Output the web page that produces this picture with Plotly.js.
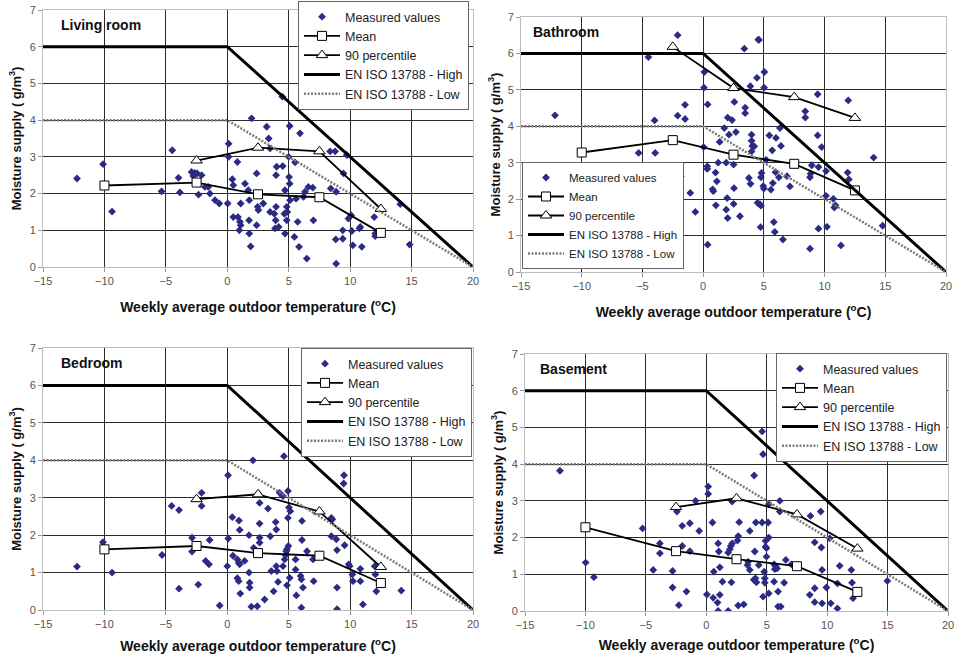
<!DOCTYPE html>
<html>
<head>
<meta charset="utf-8">
<script src="https://cdn.plot.ly/plotly-3.0.1.min.js"></script>
<style>html,body{margin:0;padding:0;background:#fff;}#chart{width:956px;height:657px;}</style>
</head>
<body>
<div id="chart"></div>
<script>
// ---------- data ----------
const roomNames = ["Living room", "Bathroom", "Bedroom", "Basement"];
const legendNames = ["Measured values", "Mean", "90 percentile", "EN ISO 13788 - High", "EN ISO 13788 - Low"];

const meanX = [-10, -2.5, 2.5, 7.5, 12.5];
const pctX = [-2.5, 2.5, 7.5, 12.5];
const stdX = [-15, 0, 20];
const highY = [6, 6, 0];
const lowY = [4, 4, 0];

const livingX = [-12.23,-10.11,-9.38,-4.48,-5.35,-3.97,-3.86,-2.91,-2.77,-2.64,-2.45,-2.34,-2.09,-1.82,-1.55,-1.41,-1.0,-0.65,0.11,0.11,0.03,0.41,0.49,0.82,0.49,0.87,1.03,1.09,0.98,1.09,1.44,1.71,1.79,1.77,1.79,1.9,1.98,2.39,2.47,2.53,2.39,2.93,3.21,3.37,3.48,3.48,3.83,3.94,3.97,3.89,4.18,4.02,3.97,4.51,4.48,4.65,4.7,4.7,4.84,4.89,4.84,5.08,5.0,5.03,5.08,5.11,5.92,5.52,5.6,5.73,5.84,5.46,6.2,6.33,6.47,6.6,6.96,7.01,8.37,8.78,8.42,8.86,8.86,8.83,9.4,9.4,9.46,9.73,9.86,10.08,10.14,10.22,10.82,10.76,10.95,11.96,12.04,12.04,14.08,14.84];
const livingY = [2.41,2.80,1.51,3.18,2.06,2.43,2.03,2.59,2.48,2.56,2.55,1.97,2.5,2.18,2.18,2.0,1.82,1.73,3.36,3.0,1.73,2.39,2.23,2.86,1.36,1.36,1.23,1.14,1.0,1.73,2.27,2.09,1.82,1.27,0.91,0.56,4.05,2.55,1.64,1.55,1.14,1.73,3.82,3.5,3.23,1.5,1.45,1.27,1.64,1.05,1.09,2.73,2.5,2.75,4.64,1.45,0.91,2.09,1.64,1.5,1.27,3.84,3.0,2.45,2.27,1.82,3.64,2.85,1.86,1.23,0.55,0.82,1.91,2.05,0.23,2.18,2.16,1.27,3.15,3.15,2.14,2.05,0.09,0.75,0.77,1.0,2.55,3.05,1.32,1.41,0.98,0.59,1.09,1.05,0.55,1.36,0.91,0.84,1.71,0.61];
const livingMean = [2.22, 2.3, 1.98, 1.9, 0.93];
const livingPct = [2.9, 3.25, 3.15, 1.58];

const bathX = [-12.2,-10.1,-9.4,-5.31,-4.51,-4.0,-3.95,-2.92,-2.77,-2.43,-2.1,-2.1,-1.83,-1.49,-1.49,-1.06,-0.64,0.04,0.1,0.07,0.37,0.34,0.34,0.37,0.78,0.84,1.02,1.13,1.05,1.24,1.36,1.74,1.9,1.98,1.9,2.02,2.02,2.13,2.38,2.51,2.54,2.51,2.57,2.7,3.03,3.39,3.46,3.46,3.77,3.9,3.89,3.99,3.99,4.04,3.99,4.21,4.43,4.54,4.6,4.48,4.68,4.76,4.73,4.81,4.76,4.95,5.0,5.04,5.02,5.19,5.45,5.58,5.69,5.74,5.82,5.9,5.96,6.0,6.24,6.32,6.41,6.57,6.9,7.15,8.41,8.41,8.95,8.8,8.85,8.8,9.43,9.43,9.5,9.5,9.76,10.12,10.12,10.2,10.72,10.8,10.9,11.35,11.9,11.95,12.0,14.04,14.78];
const bathY = [4.3,2.63,2.31,3.27,5.9,4.16,3.27,2.76,2.17,2.37,6.5,4.29,2.63,4.59,4.2,2.17,1.65,3.43,5.49,5.06,4.6,2.9,2.83,0.75,2.27,2.22,2.73,2.49,1.83,3.0,3.57,3.95,3.0,2.03,1.71,1.48,4.24,3.77,4.17,2.95,2.3,1.87,4.67,3.84,1.53,6.13,4.51,4.36,2.58,2.42,5.1,3.77,3.6,3.46,3.31,3.45,5.33,6.38,6.37,1.9,1.86,1.82,1.23,2.72,2.6,2.36,2.29,5.49,5.06,3.08,3.75,2.26,3.34,2.44,1.37,1.1,2.74,3.68,2.6,3.95,3.46,0.89,2.63,2.35,4.41,4.24,2.93,2.6,2.7,0.64,4.88,3.75,2.88,1.19,3.43,2.77,2.09,1.24,2.01,1.77,1.83,0.73,2.73,4.71,2.54,3.14,1.27];
const bathMean = [3.28, 3.62, 3.22, 2.97, 2.24];
const bathPct = [6.18, 5.05, 4.8, 4.23];

const bedX = [-12.23,-10.12,-9.38,-5.31,-4.53,-3.93,-3.93,-2.87,-2.87,-2.09,-2.09,-2.36,-1.76,-1.49,-1.44,-0.62,0.06,0.08,0.0,0.41,0.46,0.82,0.93,1.01,0.95,1.01,0.82,0.93,1.06,1.41,1.77,1.77,1.82,1.82,1.96,2.09,2.15,2.55,2.63,2.63,2.63,2.63,2.44,3.04,3.31,3.58,3.5,3.94,3.99,3.99,4.05,4.13,3.77,4.26,4.53,4.61,4.53,4.67,4.75,4.8,4.86,4.97,4.94,5.02,4.94,5.13,4.86,5.08,5.56,5.56,5.62,5.97,6.03,6.03,6.08,6.08,6.16,6.49,6.98,7.03,8.47,8.47,8.55,8.87,8.93,8.93,8.93,9.5,9.47,9.55,9.88,9.96,10.18,10.23,10.83,10.83,11.04,12.0,12.05,12.13,14.16];
const bedY = [1.16,1.81,1.0,1.47,2.78,2.67,0.57,1.93,1.56,3.13,2.78,0.68,1.31,1.22,1.87,0.12,3.6,1.91,1.17,2.48,1.45,1.35,1.26,1.22,2.39,2.14,0.85,0.77,0.44,1.31,2.0,1.0,0.73,0.6,0.09,4.0,1.66,3.1,2.86,2.31,1.93,1.8,0.1,0.28,2.71,1.04,1.97,2.35,2.15,1.17,1.04,0.75,0.5,3.13,3.04,4.11,1.17,1.35,1.46,1.57,1.62,1.71,3.18,2.74,2.46,2.64,0.66,0.86,1.35,1.08,0.39,0.91,0.82,0.06,2.38,1.87,0.6,1.57,1.35,0.77,2.46,1.97,2.42,1.89,1.6,0.6,0.02,3.6,3.38,1.73,1.22,1.17,0.95,0.77,1.1,0.77,0.15,1.17,0.95,0.5,0.52];
const bedMean = [1.62, 1.71, 1.52, 1.45, 0.72];
const bedPct = [2.96, 3.09, 2.63, 1.15];

const baseX = [-12.11,-9.98,-9.3,-5.27,-4.39,-3.84,-3.84,-2.79,-2.79,-2.43,-2.27,-1.99,-1.99,-1.64,-1.36,-1.36,-0.89,-0.59,0.16,0.16,0.05,0.51,0.57,0.62,0.93,0.98,1.04,1.12,1.12,0.98,1.34,1.81,1.81,1.95,2.03,2.14,2.08,2.14,2.58,2.64,2.72,2.64,3.1,3.41,3.46,3.6,3.6,3.96,4.1,4.01,3.93,4.07,4.15,4.34,4.62,4.62,4.7,4.9,4.9,4.98,4.98,4.79,4.84,4.84,4.7,5.12,5.17,5.17,5.17,5.61,5.67,5.75,5.86,5.61,6.08,6.08,5.94,5.94,6.16,6.44,6.58,7.04,8.62,8.56,8.97,8.97,8.97,9.47,9.52,9.58,9.58,9.94,10.21,10.3,10.85,10.85,11.04,12.0,12.06,12.14,14.98];
const baseY = [3.82,1.32,0.92,2.25,1.12,1.84,1.57,1.09,0.64,2.71,0.16,2.32,1.77,0.53,2.39,1.63,3.0,2.18,3.39,3.19,0.45,2.41,0.36,1.07,0.23,1.84,1.62,1.19,0.44,0.0,0.8,0.0,1.59,1.68,1.77,1.84,0.78,2.98,1.92,2.04,2.42,0.15,0.18,1.25,1.34,1.12,2.18,3.69,2.41,1.62,0.85,0.89,0.78,1.25,2.41,4.89,4.27,1.91,1.75,1.71,1.48,1.07,0.89,0.77,0.39,2.41,2.0,2.91,0.48,1.27,1.14,1.21,1.16,0.8,3.0,2.71,0.53,0.12,0.12,0.77,1.39,1.27,2.59,0.44,0.62,1.87,0.24,2.71,1.73,1.12,0.21,0.64,1.98,0.21,0.75,0.07,1.23,1.12,0.77,0.35,0.82];
const baseMean = [2.28, 1.63, 1.41, 1.22, 0.52];
const basePct = [2.83, 3.07, 2.63, 1.7];

// ---------- layout helpers ----------
const W = 956, H = 657;
const px = v => v / W, py = v => 1 - v / H;

const panels = [
  {name: roomNames[0], sx: livingX, sy: livingY, mean: livingMean, pct: livingPct,
   dom: [[43, 473], [10, 267]], leg: {x: 298, y: 1, anchor: 'top', size: 12.5}, xs: 15, ys: 5, tx: -13.7},
  {name: roomNames[1], sx: bathX, sy: bathY, mean: bathMean, pct: bathPct,
   dom: [[521, 946], [17, 272]], leg: {x: 522, y: 269, anchor: 'bottom', size: 11.5}, xs: 15, ys: 4, tx: -14.2},
  {name: roomNames[2], sx: bedX, sy: bedY, mean: bedMean, pct: bedPct,
   dom: [[43, 473], [348, 610]], leg: {x: 301, y: 348, anchor: 'top', size: 12.5}, xs: 11, ys: 5, tx: -13.7},
  {name: roomNames[3], sx: baseX, sy: baseY, mean: baseMean, pct: basePct,
   dom: [[525, 948], [354, 611]], leg: {x: 776, y: 353, anchor: 'top', size: 12.5}, xs: 9, ys: 5, tx: -13.9}
];

const FONT = 'Liberation Sans, Arial, sans-serif';
const traces = [];
const layout = {
  width: W, height: H,
  margin: {l: 0, r: 0, t: 0, b: 0},
  paper_bgcolor: '#fff', plot_bgcolor: '#fff',
  font: {family: FONT, color: '#222'},
  showlegend: true,
  annotations: []
};

panels.forEach((p, i) => {
  const n = i + 1;
  const xa = n === 1 ? 'x' : 'x' + n;
  const ya = n === 1 ? 'y' : 'y' + n;
  const lg = n === 1 ? 'legend' : 'legend' + n;

  traces.push({type: 'scatter', mode: 'markers', name: legendNames[0], x: p.sx, y: p.sy,
    xaxis: xa, yaxis: ya, legend: lg,
    marker: {symbol: 'diamond', size: 6, color: '#2b2b85'}});
  traces.push({type: 'scatter', mode: 'lines+markers', name: legendNames[1], x: meanX, y: p.mean,
    xaxis: xa, yaxis: ya, legend: lg,
    line: {color: '#000', width: 1.8},
    marker: {symbol: 'square', size: 9, color: '#fff', line: {color: '#000', width: 1}}});
  traces.push({type: 'scatter', mode: 'lines+markers', name: legendNames[2], x: pctX, y: p.pct,
    xaxis: xa, yaxis: ya, legend: lg,
    line: {color: '#000', width: 1.8},
    marker: {symbol: 'triangle-up', size: 10, color: '#fff', line: {color: '#000', width: 1}}});
  traces.push({type: 'scatter', mode: 'lines', name: legendNames[3], x: stdX, y: highY,
    xaxis: xa, yaxis: ya, legend: lg,
    line: {color: '#000', width: 3}});
  traces.push({type: 'scatter', mode: 'lines', name: legendNames[4], x: stdX, y: lowY,
    xaxis: xa, yaxis: ya, legend: lg,
    line: {color: '#7c7c7c', width: 2.5, dash: '2px,1.5px'}});

  const axCommon = {
    showgrid: true, gridcolor: '#2a2a2a', gridwidth: 1,
    showline: true, linecolor: '#bdbdbd', linewidth: 1, mirror: true,
    zeroline: false, ticks: 'outside', ticklen: 4, tickcolor: '#999',
    tickfont: {family: FONT, size: 11, color: '#555'}, fixedrange: true
  };
  layout['xaxis' + (n === 1 ? '' : n)] = Object.assign({}, axCommon, {
    domain: [px(p.dom[0][0]), px(p.dom[0][1])],
    anchor: ya, range: [-15, 20], tick0: -15, dtick: 5,
    title: {text: 'Weekly average outdoor temperature (<sup>o</sup>C)',
      font: {family: FONT, size: 14, color: '#111', weight: 700}, standoff: p.xs}
  });
  layout['yaxis' + (n === 1 ? '' : n)] = Object.assign({}, axCommon, {
    domain: [py(p.dom[1][1]), py(p.dom[1][0])],
    anchor: xa, range: [0, 7], tick0: 0, dtick: 1,
    title: {text: 'Moisture supply ( g/m<sup>3</sup>)',
      font: {family: FONT, size: 13, color: '#111', weight: 700}, standoff: p.ys}
  });
  layout[lg] = {
    x: px(p.leg.x), y: py(p.leg.y), xanchor: 'left', yanchor: p.leg.anchor,
    xref: 'paper', yref: 'paper',
    bgcolor: '#fff', bordercolor: '#666', borderwidth: 1,
    font: {family: FONT, size: p.leg.size, color: '#222'},
    traceorder: 'normal', itemwidth: 36, tracegroupgap: 0
  };
  layout.annotations.push({
    xref: xa, yref: ya, x: p.tx, y: 6.6, xanchor: 'left', yanchor: 'middle',
    text: '<b>' + p.name + '</b>', showarrow: false,
    font: {family: FONT, size: 14, color: '#111'}
  });
});

Plotly.newPlot('chart', traces, layout, {displayModeBar: false, staticPlot: true});
</script>
</body>
</html>
